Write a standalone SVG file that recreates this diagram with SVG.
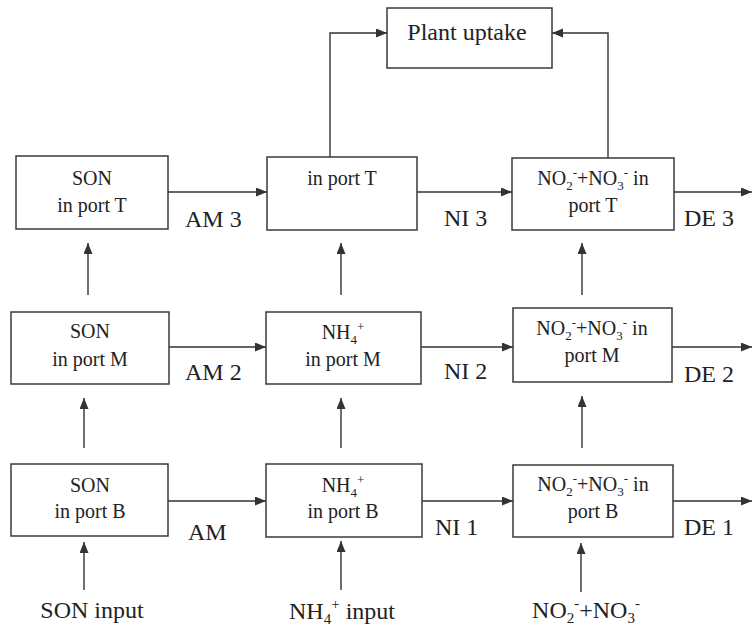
<svg xmlns="http://www.w3.org/2000/svg" width="753" height="630" viewBox="0 0 753 630" font-family="Liberation Serif, Times New Roman, DejaVu Serif, serif">
<style>
.box{fill:#fff;stroke:#3a3a3a;stroke-width:1.5}
.ln{fill:none;stroke:#333;stroke-width:1.4}
.t{font-size:20px;fill:#222;text-anchor:middle}
.L{font-size:24px;fill:#222}
.s{font-size:13px}
</style>
<defs>
<marker id="ah" markerUnits="userSpaceOnUse" markerWidth="12" markerHeight="10" refX="11" refY="4.5" orient="auto">
<path d="M0,0 L11,4.5 L0,9 z" fill="#333"/>
</marker>
</defs>
<rect width="753" height="630" fill="#fff"/>

<g id="connectors">
<path class="ln" marker-end="url(#ah)" d="M330,157 V33 H387"/>
<path class="ln" marker-end="url(#ah)" d="M608,158 V33 H552"/>
<line class="ln" marker-end="url(#ah)" x1="168" y1="192" x2="267" y2="192"/>
<line class="ln" marker-end="url(#ah)" x1="417" y1="192" x2="512" y2="192"/>
<line class="ln" marker-end="url(#ah)" x1="674" y1="192" x2="752" y2="192"/>
<line class="ln" marker-end="url(#ah)" x1="169" y1="347" x2="266" y2="347"/>
<line class="ln" marker-end="url(#ah)" x1="421" y1="347" x2="513" y2="347"/>
<line class="ln" marker-end="url(#ah)" x1="672" y1="347" x2="752" y2="347"/>
<line class="ln" marker-end="url(#ah)" x1="168" y1="501" x2="266" y2="501"/>
<line class="ln" marker-end="url(#ah)" x1="422" y1="501" x2="513" y2="501"/>
<line class="ln" marker-end="url(#ah)" x1="673" y1="501" x2="752" y2="501"/>
<line class="ln" marker-end="url(#ah)" x1="88" y1="295" x2="88" y2="243"/>
<line class="ln" marker-end="url(#ah)" x1="341" y1="295" x2="341" y2="243"/>
<line class="ln" marker-end="url(#ah)" x1="582" y1="295" x2="582" y2="243"/>
<line class="ln" marker-end="url(#ah)" x1="84" y1="448" x2="84" y2="398"/>
<line class="ln" marker-end="url(#ah)" x1="341" y1="448" x2="341" y2="398"/>
<line class="ln" marker-end="url(#ah)" x1="582" y1="448" x2="582" y2="396"/>
<line class="ln" marker-end="url(#ah)" x1="84" y1="590" x2="84" y2="542"/>
<line class="ln" marker-end="url(#ah)" x1="341" y1="590" x2="341" y2="541"/>
<line class="ln" marker-end="url(#ah)" x1="581" y1="592" x2="581" y2="543"/>
<text class="L" x="185" y="227">AM 3</text>
<text class="L" x="444" y="226">NI 3</text>
<text class="L" x="684" y="226">DE 3</text>
<text class="L" x="185" y="380">AM 2</text>
<text class="L" x="444" y="379">NI 2</text>
<text class="L" x="684" y="382">DE 2</text>
<text class="L" x="188" y="540">AM</text>
<text class="L" x="435" y="535">NI 1</text>
<text class="L" x="684" y="535">DE 1</text>
</g>

<g id="plant-uptake">
<rect class="box" x="387" y="8" width="165" height="60"/>
<text class="L" x="467" y="40" text-anchor="middle">Plant uptake</text>
</g>

<g id="son-t">
<rect class="box" x="16" y="156" width="152" height="73"/>
<text class="t" x="92" y="185">SON</text>
<text class="t" x="92" y="212">in port T</text>
</g>
<g id="nh4-t">
<rect class="box" x="267" y="157" width="150" height="73"/>
<text class="t" x="342" y="185">in port T</text>
</g>
<g id="no-t">
<rect class="box" x="512" y="158" width="162" height="72"/>
<text class="t" x="593" y="185">NO<tspan class="s" dy="5">2</tspan><tspan class="s" dy="-13">-</tspan><tspan dy="8">+NO</tspan><tspan class="s" dy="5">3</tspan><tspan class="s" dy="-13">-</tspan><tspan dy="8"> in</tspan></text>
<text class="t" x="593" y="212">port T</text>
</g>

<g id="son-m">
<rect class="box" x="11" y="312" width="158" height="72"/>
<text class="t" x="90" y="338">SON</text>
<text class="t" x="90" y="366">in port M</text>
</g>
<g id="nh4-m">
<rect class="box" x="266" y="312" width="155" height="72"/>
<text class="t" x="343" y="339">NH<tspan class="s" dy="5">4</tspan><tspan class="s" dy="-13">+</tspan></text>
<text class="t" x="343" y="366">in port M</text>
</g>
<g id="no-m">
<rect class="box" x="513" y="308" width="159" height="74"/>
<text class="t" x="592" y="335">NO<tspan class="s" dy="5">2</tspan><tspan class="s" dy="-13">-</tspan><tspan dy="8">+NO</tspan><tspan class="s" dy="5">3</tspan><tspan class="s" dy="-13">-</tspan><tspan dy="8"> in</tspan></text>
<text class="t" x="592" y="362">port M</text>
</g>

<g id="son-b">
<rect class="box" x="11" y="464" width="157" height="72"/>
<text class="t" x="90" y="492">SON</text>
<text class="t" x="90" y="518">in port B</text>
</g>
<g id="nh4-b">
<rect class="box" x="266" y="464" width="156" height="73"/>
<text class="t" x="343" y="492">NH<tspan class="s" dy="5">4</tspan><tspan class="s" dy="-13">+</tspan></text>
<text class="t" x="343" y="518">in port B</text>
</g>
<g id="no-b">
<rect class="box" x="513" y="465" width="160" height="72"/>
<text class="t" x="593" y="491">NO<tspan class="s" dy="5">2</tspan><tspan class="s" dy="-13">-</tspan><tspan dy="8">+NO</tspan><tspan class="s" dy="5">3</tspan><tspan class="s" dy="-13">-</tspan><tspan dy="8"> in</tspan></text>
<text class="t" x="593" y="518">port B</text>
</g>

<g id="inputs">
<text class="L" x="92" y="618" text-anchor="middle">SON input</text>
<text class="L" x="342" y="619" text-anchor="middle">NH<tspan font-size="15" dy="5">4</tspan><tspan font-size="15" dy="-15">+</tspan><tspan dy="10"> input</tspan></text>
<text class="L" x="586" y="618" text-anchor="middle">NO<tspan font-size="15" dy="5">2</tspan><tspan font-size="15" dy="-15">-</tspan><tspan dy="10">+NO</tspan><tspan font-size="15" dy="5">3</tspan><tspan font-size="15" dy="-15">-</tspan></text>
</g>
</svg>
